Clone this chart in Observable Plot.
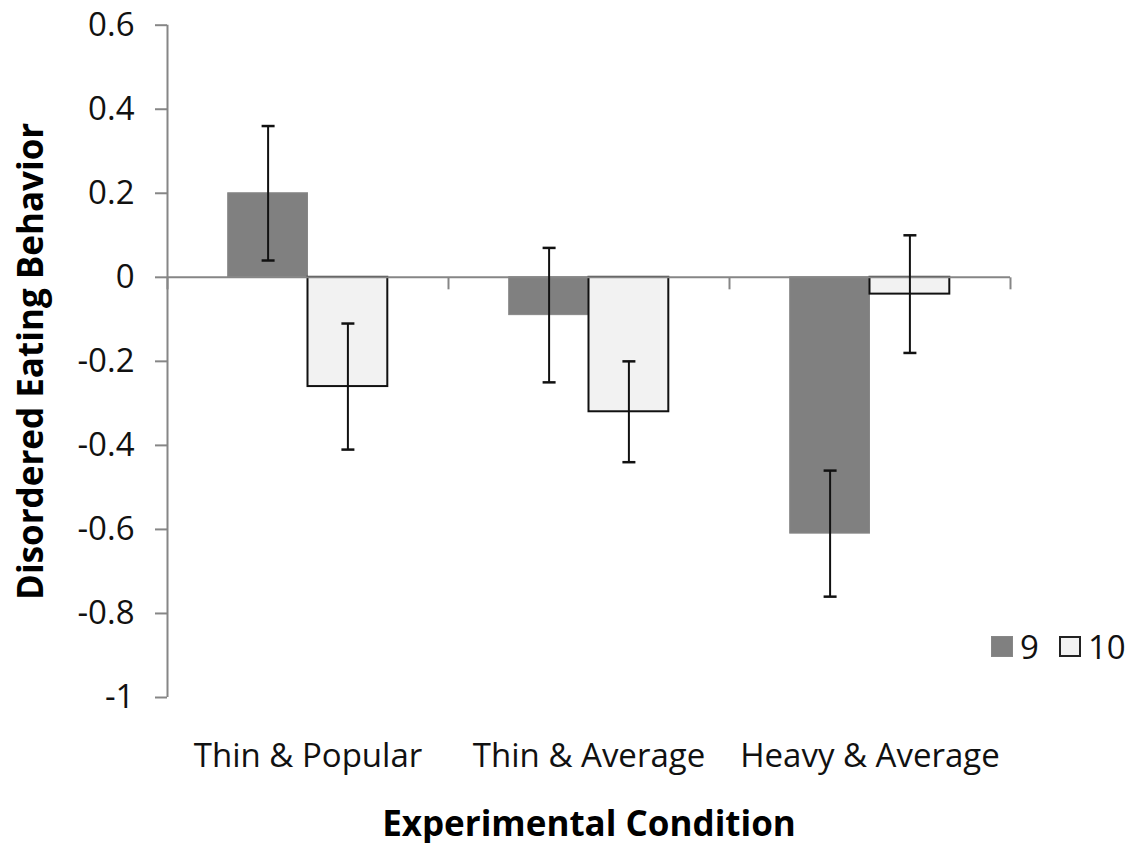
<!DOCTYPE html>
<html>
<head>
<meta charset="utf-8">
<script src="https://cdn.jsdelivr.net/npm/d3@7"></script>
<script src="https://cdn.jsdelivr.net/npm/@observablehq/plot@0.6"></script>
<style>
  body { margin: 0; background: #fff; }
  #wrap { position: relative; width: 1135px; height: 843px; font-family: "Open Sans", sans-serif; }
  #wrap svg { overflow: visible; }
  #legend { position: absolute; left: 991px; top: 624px; display: flex; align-items: center; font-size: 33px; color: #111; }
  #legend .sw { width: 22px; height: 21px; box-sizing: border-box; display: inline-block; }
</style>
</head>
<body>
<div id="wrap"></div>
<script>
const categories = ["Thin & Popular", "Thin & Average", "Heavy & Average"];
const seriesNames = ["9", "10"];
const values9 = [0.20, -0.09, -0.61];
const err9 = [0.16, 0.16, 0.15];
const values10 = [-0.26, -0.32, -0.04];
const err10 = [0.15, 0.12, 0.14];
const yTicks = [-1, -0.8, -0.6, -0.4, -0.2, 0, 0.2, 0.4, 0.6];

const gap = 0.216; // outer gap fraction of each category band
const rows = [];
categories.forEach((c, i) => {
  rows.push({cat: c, i, series: "9", value: values9[i], err: err9[i], x1: i + gap, x2: i + 0.5});
  rows.push({cat: c, i, series: "10", value: values10[i], err: err10[i], x1: i + 0.5, x2: i + 1 - gap});
});
rows.forEach(d => { d.xc = (d.x1 + d.x2) / 2; d.lo = d.value - d.err; d.hi = d.value + d.err; });

const capSymbol = { draw(ctx, size) { const r = Math.sqrt(size / Math.PI); ctx.moveTo(-r, 0); ctx.lineTo(r, 0); } };
const tickDown = { draw(ctx, size) { const r = Math.sqrt(size / Math.PI); ctx.moveTo(0, 0); ctx.lineTo(0, r); } };

const fmt = d => String(+d.toFixed(1));
const axisColor = "#868686";

const chart = Plot.plot({
  width: 1135,
  height: 843,
  marginLeft: 167,
  marginRight: 125,
  marginTop: 24.7,
  marginBottom: 146,
  style: { fontFamily: "'Open Sans', sans-serif", fontSize: "33px", color: "#111", background: "#fff", overflow: "visible" },
  x: { domain: [0, 3] },
  y: { domain: [-1, 0.6] },
  marks: [
    Plot.ruleX([0], { stroke: axisColor, strokeWidth: 2 }),
    Plot.axisY({ ticks: yTicks, tickFormat: fmt, tickSize: 12, tickPadding: 21, stroke: axisColor, strokeWidth: 2, fill: "#111", fontSize: 33, label: null }),
    Plot.axisX({ ticks: [0.5, 1.5, 2.5], tickFormat: t => categories[Math.floor(t)], tickSize: 0, tickPadding: 46, fill: "#111", fontSize: 33, label: null }),
    Plot.rectY(rows, {
      x1: "x1", x2: "x2", y1: 0, y2: "value",
      fill: d => d.series === "9" ? "#808080" : "#f2f2f2",
      stroke: d => d.series === "9" ? "#878787" : "#111",
      strokeWidth: d => d.series === "9" ? 1 : 2
    }),
    Plot.ruleY([0], { stroke: axisColor, strokeWidth: 2 }),
    Plot.dot([0, 1, 2, 3], { x: d => d, y: 0, symbol: tickDown, r: 12, stroke: axisColor, strokeWidth: 2, fill: "none" }),
    Plot.ruleX(rows, { x: "xc", y1: "lo", y2: "hi", stroke: "#111", strokeWidth: 2 }),
    Plot.dot(rows, { x: "xc", y: "hi", symbol: capSymbol, r: 6.5, stroke: "#111", strokeWidth: 2.5, fill: "none" }),
    Plot.dot(rows, { x: "xc", y: "lo", symbol: capSymbol, r: 6.5, stroke: "#111", strokeWidth: 2.5, fill: "none" }),
    Plot.text(["Disordered Eating Behavior"], { frameAnchor: "left", dx: -136, rotate: -90, textAnchor: "middle", lineAnchor: "middle", fontWeight: "bold", fontSize: 35, fill: "#000" }),
    Plot.text(["Experimental Condition"], { frameAnchor: "bottom", dy: 127, textAnchor: "middle", lineAnchor: "middle", fontWeight: "bold", fontSize: 35, fill: "#000" })
  ]
});

const wrap = document.getElementById("wrap");
wrap.appendChild(chart);

const legend = document.createElement("div");
legend.id = "legend";
const fills = { "9": ["#808080", "1px solid #878787"], "10": ["#f2f2f2", "2px solid #222"] };
seriesNames.forEach((s, k) => {
  const sw = document.createElement("span");
  sw.className = "sw";
  sw.style.background = fills[s][0];
  sw.style.border = fills[s][1];
  sw.style.marginLeft = k ? "20px" : "0";
  const lab = document.createElement("span");
  lab.textContent = s;
  lab.style.marginLeft = "7px";
  legend.appendChild(sw);
  legend.appendChild(lab);
});
wrap.appendChild(legend);
</script>
</body>
</html>
